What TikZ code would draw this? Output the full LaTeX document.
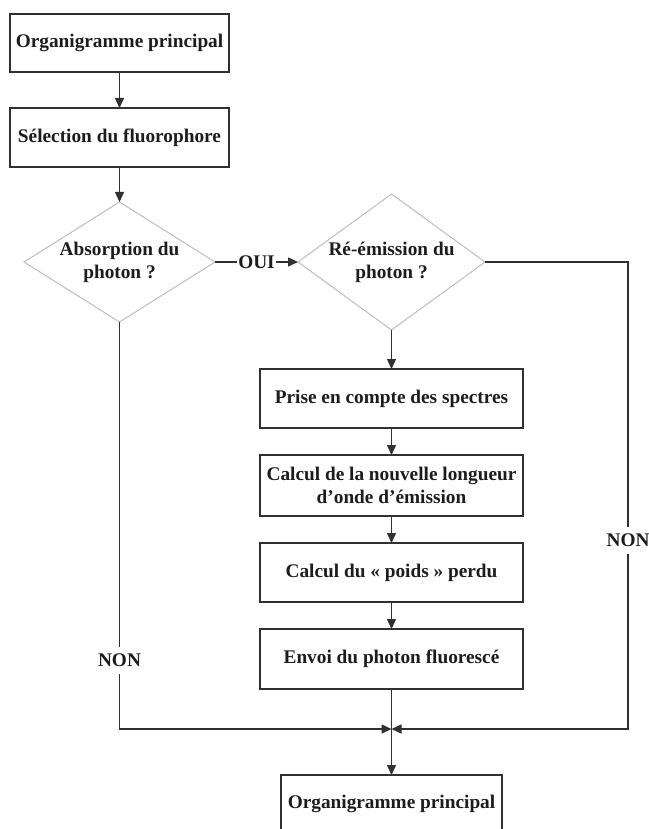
\documentclass[tikz,border=0pt]{standalone}
\usepackage{fontspec}
\setmainfont{Liberation Serif}
\usetikzlibrary{positioning,shapes.geometric,arrows.meta}
\definecolor{edgegray}{HTML}{303030}
\definecolor{rimgray}{HTML}{BDBDBD}
\definecolor{ink}{HTML}{1C1C1C}

\begin{document}
\begin{tikzpicture}
                [x=1pt,y=-1pt,node distance=27pt,
                font=\fontsize{19.3}{23}\selectfont\bfseries,
                box/.style={rectangle,draw=edgegray,line width=1.3pt,text=ink,minimum width=263pt,minimum height=59pt,align=center,inner sep=0pt,outer sep=0pt},
                dia/.style={diamond,draw=rimgray,line width=1pt,text=ink,align=center,inner sep=0pt,outer sep=0pt},
                lbl/.style={fill=white,text=ink,inner xsep=1pt,inner ysep=7pt},
                arr/.style={draw=edgegray,line width=1.4pt,-{Triangle[length=10pt,width=9pt]}}]
                \useasboundingbox (0,0) rectangle (648,829);
                \node[box,minimum width=219pt,minimum height=58pt] (princ) at (119.5,43){Organigramme principal};
                \node[box,minimum width=219pt,node distance=36pt] (select)[below=of princ]{Sélection du fluorophore};
                \node[dia,minimum width=191pt,minimum height=120pt,aspect=1.6,node distance=35pt] (absorb)[below=of select]{Absorption du\\photon ?};
                \node[dia,minimum width=187pt,minimum height=136pt,aspect=1.375,node distance=83pt] (reem)[right=of absorb]{Ré-émission du\\photon ?};
                \node[box,node distance=39pt] (spectra)[below=of reem]{Prise en compte des spectres};
                \node[box,minimum height=61pt] (lambda)[below=of spectra]{Calcul de la nouvelle longueur\\d’onde d’émission};
                \node[box] (weight)[below=of lambda]{Calcul du « poids » perdu};
                \node[box,minimum height=60pt] (send)[below=of weight]{Envoi du photon fluorescé};
                \node[box,minimum width=221pt,minimum height=58pt,node distance=86pt] (back)[below=of send]{Organigramme principal};
                % meeting point of the three branches
                \coordinate (join) at (send.south |- 0,729);
                \coordinate (rturn) at (628,0 |- reem.east);
                \path[every edge/.append style={arr}](princ) edge (select)
                        (select) edge (absorb)
                        (absorb) edge node[lbl]{OUI} (reem)
                        (reem) edge (spectra)
                        (spectra) edge (lambda)
                        (lambda) edge (weight)
                        (weight) edge (send)
                        (send) edge (back);
                \draw[arr] (absorb.south) |- node[lbl,pos=0.416]{NON} (join);
                \draw[arr] (reem.east) -- (rturn) |- node[lbl,pos=0.298]{NON} (join);
            \end{tikzpicture}
\end{document}
